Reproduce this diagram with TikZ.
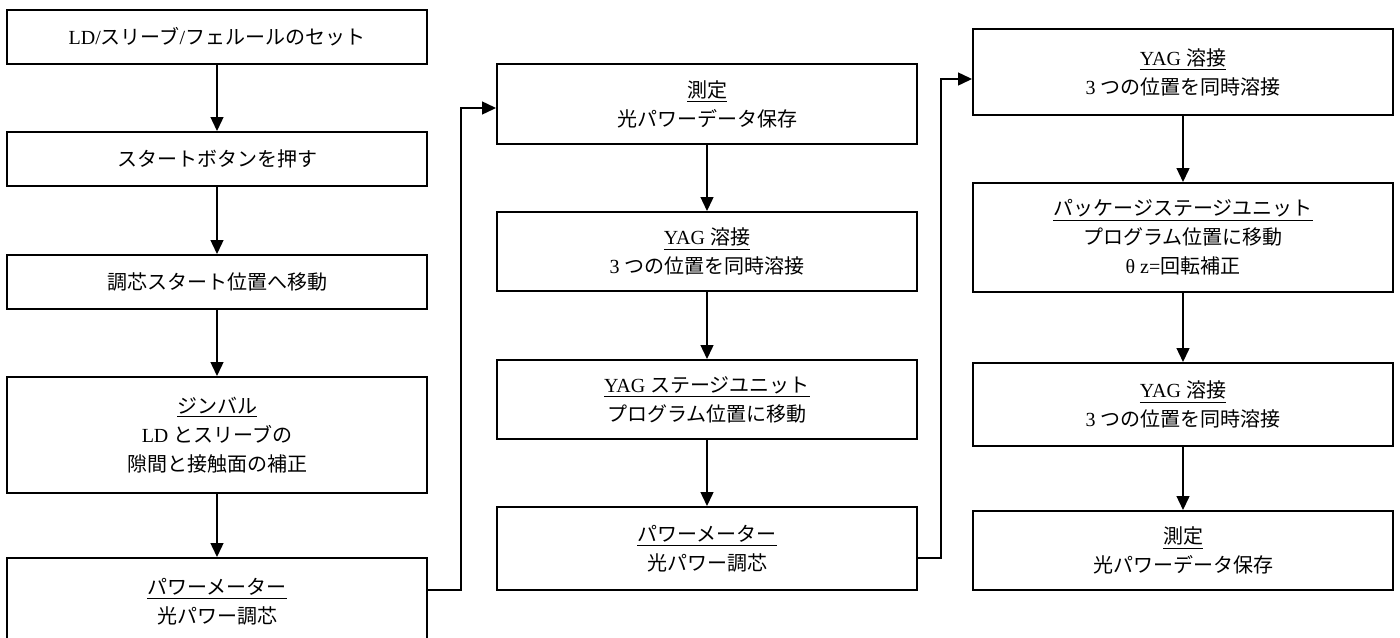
\documentclass[tikz,border=0pt]{standalone}
\usepackage{fontspec}
\setmainfont{Liberation Serif}
\newfontfamily\jp{Noto Sans CJK JP}
\usetikzlibrary{arrows.meta,calc}
\newcommand\J[1]{{\jp #1}}
\begin{document}
\begin{tikzpicture}[x=0.5pt,y=-0.5pt,
  box/.style={draw, line width=1pt, inner sep=0pt, align=center, minimum width=210pt,
    font=\fontsize{10}{14.5}\selectfont},
  conn/.style={line width=0.7pt, -{Triangle[width=6.5pt,length=7pt]}},
  wire/.style={line width=0.7pt}]
\useasboundingbox (0,0) rectangle (1400,637);
\clip (0,0) rectangle (1400,637);
% column 1
\node[box, minimum height=27pt] (b1) at (217,37) {LD/\J{スリーブ}/\J{フェルールのセット}};
\node[box, minimum height=27pt] (b2) at (217,159) {\J{スタートボタンを押す}};
\node[box, minimum height=27pt] (b3) at (217,282) {\J{調芯スタート位置へ移動}};
\node[box, minimum height=58pt] (b4) at (217,435) {\underline{\J{ジンバル}}\\LD \J{とスリーブの}\\\J{隙間と接触面の補正}};
\node[box, minimum height=44pt] (b5) at (217,602) {\underline{\J{パワーメーター}}\\\J{光パワー調芯}};
% column 2
\node[box, minimum height=40pt] (A) at (707,104) {\underline{\J{測定}}\\\J{光パワーデータ保存}};
\node[box, minimum height=39.5pt] (B) at (707,251.5) {\underline{YAG \J{溶接}}\\3 \J{つの位置を同時溶接}};
\node[box, minimum height=39.5pt] (C) at (707,399.5) {\underline{YAG \J{ステージユニット}}\\\J{プログラム位置に移動}};
\node[box, minimum height=41.5pt] (D) at (707,548.5) {\underline{\J{パワーメーター}}\\\J{光パワー調芯}};
% column 3
\node[box, minimum height=43pt] (E) at (1183,72) {\underline{YAG \J{溶接}}\\3 \J{つの位置を同時溶接}};
\node[box, minimum height=54.5pt] (F) at (1183,237.5) {\underline{\J{パッケージステージユニット}}\\\J{プログラム位置に移動}\\θ z=\J{回転補正}};
\node[box, minimum height=41.5pt] (G) at (1183,404.5) {\underline{YAG \J{溶接}}\\3 \J{つの位置を同時溶接}};
\node[box, minimum height=39.5pt] (H) at (1183,550.5) {\underline{\J{測定}}\\\J{光パワーデータ保存}};
% arrows
\draw[conn] (b1) -- (b2);
\draw[conn] (b2) -- (b3);
\draw[conn] (b3) -- (b4);
\draw[conn] (b4) -- (b5);
\draw[conn] (A) -- (B);
\draw[conn] (B) -- (C);
\draw[conn] (C) -- (D);
\draw[conn] (E) -- (F);
\draw[conn] (F) -- (G);
\draw[conn] (G) -- (H);
\coordinate (k1) at (461,590);
\coordinate (k2) at (941,558);
\draw[conn] (b5.east |- k1) -- (k1) |- ($(A.west)+(0,4)$);
\draw[conn] (D.east |- k2) -- (k2) |- ($(E.west)+(0,7)$);
\end{tikzpicture}
\end{document}
